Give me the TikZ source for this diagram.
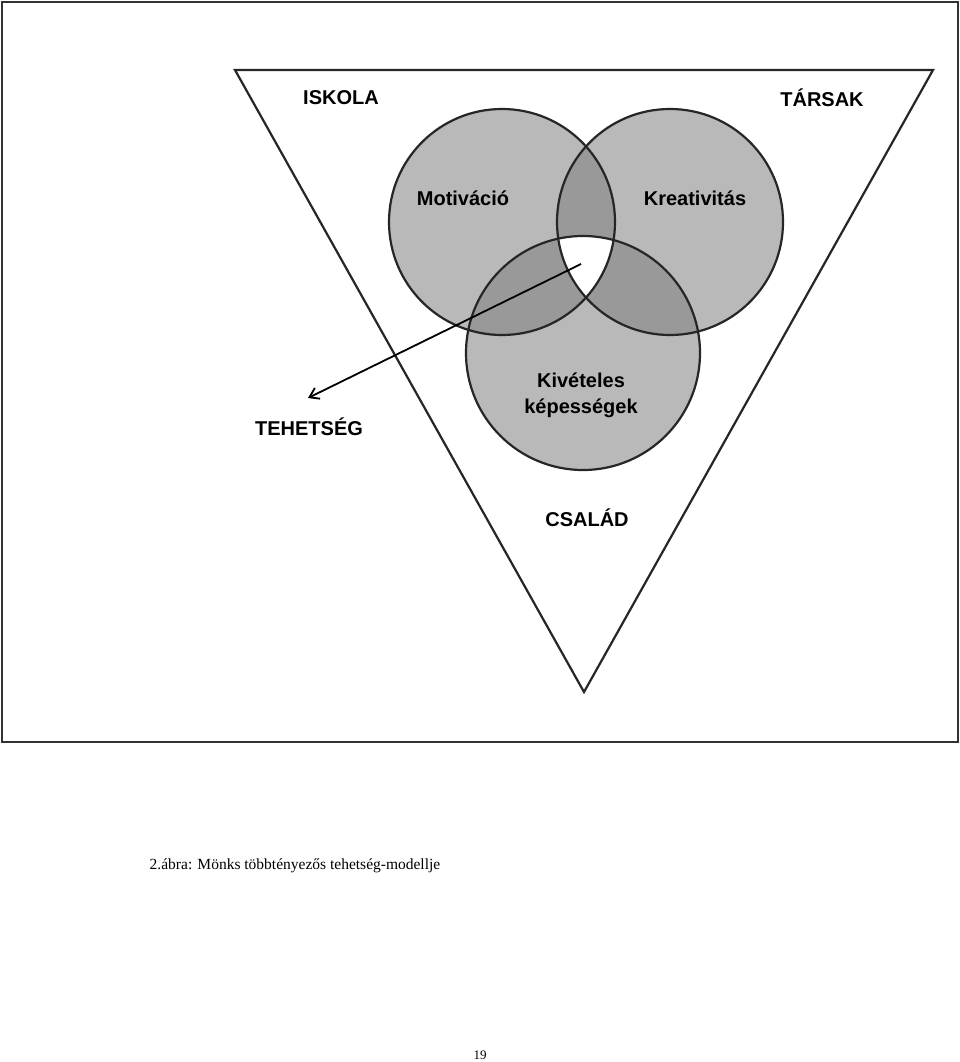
\documentclass[tikz,border=0pt]{standalone}
\usepackage{fontspec}
\setmainfont{Liberation Serif}
\newfontfamily\arial{Liberation Sans}
\usetikzlibrary{arrows.meta}
\begin{document}
\begin{tikzpicture}[x=1pt,y=-1pt,
  lab/.style={font=\arial\bfseries\fontsize{20}{22}\selectfont, inner sep=0},
  circ/.style={draw=black!85, line width=2.2pt}]
\useasboundingbox (0,0) rectangle (960,1062);
\fill[white] (0,0) rectangle (960,1062);
\draw[line width=2.5pt, black!80] (2,2) rectangle (958,742);
\coordinate (ta) at (235,70); \coordinate (tb) at (933,70); \coordinate (tc) at (584,692);
\draw[line width=2.2pt, black!85] (ta) -- (tb) -- (tc) -- cycle;
\def\cA{(502,222) circle (113)}
\def\cB{(670,222) circle (113)}
\def\cC{(583,353) circle (117)}
\fill[gray!55] \cA; \fill[gray!55] \cB; \fill[gray!55] \cC;
\begin{scope}\clip \cA; \fill[gray!80] \cB; \fill[gray!80] \cC; \end{scope}
\begin{scope}\clip \cB; \fill[gray!80] \cC; \end{scope}
\begin{scope}\clip \cA; \clip \cB; \fill[white] \cC; \end{scope}
\draw[circ] \cA; \draw[circ] \cB; \draw[circ] \cC;
\node[lab] (isk) at (341,98) {ISKOLA};
\node[lab] (tar) at (822,98) {TÁRSAK};
\node[lab] (mot) at (463,198) {Motiváció};
\node[lab] (kre) at (695,198) {Kreativitás};
\node[lab, align=center, font=\arial\bfseries\fontsize{20}{26}\selectfont] (kiv) at (581,395) {Kivételes\\képességek};
\node[lab] (teh) at (309,427) {TEHETSÉG};
\node[lab] (csa) at (587,518) {CSALÁD};
\coordinate (as) at (581,264);
\coordinate (ae) at (308,398);
\draw[line width=1.8pt, -{Straight Barb[length=9pt,width=12pt]}] (as) -- (ae);
\node[font=\fontsize{15.5}{18}\selectfont, inner sep=0] (cap) at (295,866) {2.ábra: Mönks többtényezős tehetség-modellje};
\node[font=\fontsize{13}{15}\selectfont, inner sep=0] (pg) at (480,1055) {19};
\end{tikzpicture}
\end{document}
